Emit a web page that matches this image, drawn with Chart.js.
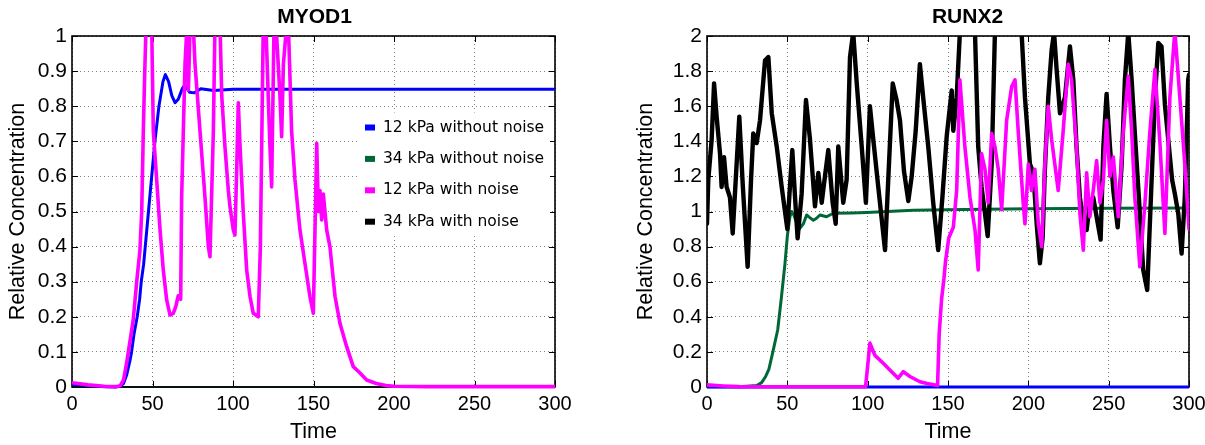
<!DOCTYPE html>
<html>
<head>
<meta charset="utf-8">
<title>MYOD1 / RUNX2</title>
<script src="https://cdn.jsdelivr.net/npm/chart.js@4.4.1/dist/chart.umd.min.js"></script>
<style>
  html, body { margin: 0; padding: 0; background: #fff; }
  #wrap { position: relative; width: 1205px; height: 445px; overflow: hidden; }
  .panel { position: absolute; top: 0; }
  #myodBox { left: 0; }
  #runxBox { left: 600px; }
</style>
</head>
<body>
<div id="wrap">
  <div class="panel" id="myodBox"><canvas id="myodCanvas" width="600" height="445"></canvas></div>
  <div class="panel" id="runxBox"><canvas id="runxCanvas" width="605" height="445"></canvas></div>
</div>
<script>
// series labels (legend order)
const seriesLabels = ["12 kPa without noise", "34 kPa without noise", "12 kPa with noise", "34 kPa with noise"];
const seriesColors = ["#0000ff", "#006837", "#ff00ff", "#000000"];

// ---- MYOD1 ----
const myodBlueT = [0, 10, 20, 27, 30, 32, 34, 36, 37, 38.5,
    40.5, 42, 43, 44.5, 45.5, 47.5, 49.5, 51.5, 54, 56.5,
    58, 60, 62, 64, 66, 68.5, 70, 73, 76, 80,
    88, 100, 300];
const myodBlueV = [0.008, 0.004, 0.001, 0, 0.003, 0.01, 0.035, 0.075, 0.1, 0.15,
    0.2, 0.25, 0.3, 0.35, 0.4, 0.5, 0.6, 0.7, 0.8, 0.87,
    0.89, 0.87, 0.83, 0.81, 0.82, 0.85, 0.86, 0.84, 0.838, 0.85,
    0.845, 0.848, 0.848];

const myodGreenT = [0, 300];
const myodGreenV = [0, 0];

const myodMagT = [0, 10, 20, 28, 30, 32, 34, 36, 38, 40.2,
    42.2, 43.3, 44.3, 45.2, 46, 47.5, 49.5, 50.5, 52.6, 54.7,
    56.7, 58.8, 60.9, 62.9, 64.5, 66, 67.5, 68.1, 70.2, 71.2,
    72.3, 73.3, 75.5, 76.4, 79.5, 82.6, 84.7, 85.7, 87.8, 88.8,
    90.5, 92, 93, 95, 97.1, 98.1, 100.2, 101.2, 102.3, 103.3,
    104.3, 106.4, 108.5, 110.6, 112.6, 115.7, 117, 118.8, 120.5, 121.9,
    123, 124, 125.5, 127.1, 129.2, 130.2, 131.3, 133.3, 134.4, 136.4,
    138.5, 141.6, 144.7, 147.8, 149.9, 152, 153, 154, 155.1, 156.1,
    158.2, 160.2, 163.4, 166.5, 170.6, 174.7, 178.9, 183, 189, 195,
    200, 220, 300];
const myodMagV = [0.012, 0.006, 0.002, 0.001, 0.004, 0.02, 0.07, 0.13, 0.19, 0.30,
    0.39, 0.5, 0.73, 0.9, 1.03, 1.05, 1.03, 0.73, 0.59, 0.447,
    0.333, 0.248, 0.205, 0.21, 0.23, 0.26, 0.25, 0.54, 0.92, 1.01,
    0.846, 1.02, 1.01, 0.92, 0.73, 0.54, 0.40, 0.371, 0.73, 1.03,
    1.05, 1.02, 0.83, 0.685, 0.56, 0.514, 0.447, 0.433, 0.62, 0.81,
    0.694, 0.495, 0.333, 0.257, 0.21, 0.2, 0.4, 1.03, 1.02, 0.827,
    0.68, 0.57, 1.03, 1.0, 0.827, 0.713, 0.92, 1.03, 1.03, 0.73,
    0.59, 0.447, 0.352, 0.257, 0.21, 0.694, 0.5, 0.56, 0.476, 0.55,
    0.447, 0.40, 0.257, 0.18, 0.115, 0.058, 0.04, 0.02, 0.01, 0.004,
    0.002, 0.001, 0.001];

const myodBlackT = [0, 300];
const myodBlackV = [0, 0];

// ---- RUNX2 ----
const runxBlueT = [0, 300];
const runxBlueV = [0, 0];

const runxGreenT = [0, 20, 31, 34, 36.5, 38.5, 40.5, 44, 46.3, 48.5,
    50, 51.6, 52.7, 54, 56, 57.9, 60, 62, 64, 66.2,
    68, 70.3, 74.4, 78.6, 90, 99.4, 128.4, 160, 200, 250,
    300];
const runxGreenV = [0.002, 0.001, 0.008, 0.025, 0.06, 0.1, 0.18, 0.325, 0.51, 0.7,
    0.86, 0.97, 1.0, 0.98, 0.93, 0.905, 0.93, 0.98, 0.965, 0.95,
    0.96, 0.98, 0.97, 0.99, 0.992, 0.995, 1.007, 1.012, 1.015, 1.018,
    1.02];

const runxMagT = [0, 10, 20, 40, 98.7, 101.4, 104.5, 109.7, 114.9, 119,
    122.2, 126.3, 132.5, 137, 143.5, 144.5, 146, 147.5, 148.5, 150.5,
    153.3, 155.4, 157.4, 160.5, 163.7, 166.8, 168.8, 170.9, 173, 175,
    177.2, 179.2, 181.3, 183.4, 186.5, 189.6, 191.7, 193.7, 196.8, 197.9,
    200, 202, 204.1, 206.2, 208.3, 210.3, 212.4, 214.5, 218.6, 221.7,
    224.8, 226.9, 230, 232.1, 234.2, 236.3, 238.3, 240.4, 242.5, 244.6,
    246.7, 248.7, 250.8, 252.9, 256, 259.1, 262.2, 264.3, 266.3, 269.4,
    272.6, 275.7, 278.8, 281.9, 285, 288.1, 291.2, 294.3, 297.4, 300];
const runxMagV = [0.012, 0.006, 0.002, 0.001, 0.001, 0.25, 0.18, 0.135, 0.087, 0.05,
    0.087, 0.06, 0.03, 0.02, 0.008, 0.3, 0.5, 0.62, 0.72, 0.85,
    0.91, 1.12, 1.75, 1.37, 1.08, 0.895, 0.667, 1.33, 1.24, 1.05,
    1.445, 1.37, 1.24, 1.01, 1.52, 1.71, 1.75, 1.46, 1.05, 0.93,
    1.27, 1.12, 1.24, 0.93, 0.8, 1.27, 1.6, 1.41, 1.12, 1.46,
    1.84, 1.75, 1.37, 0.99, 0.78, 1.22, 0.97, 1.12, 1.29, 1.05,
    1.18, 1.52, 1.2, 1.31, 0.97, 1.46, 1.77, 1.46, 1.08, 0.685,
    1.05, 1.46, 1.81, 1.39, 0.875, 1.65, 2.03, 1.65, 1.27, 0.9];

const runxBlackT = [0, 0.8, 2.9, 4.4, 6, 8.1, 9.1, 10.6, 12.2, 14.3,
    16, 18, 20.1, 22.2, 25.3, 27.4, 28.8, 30.9, 33, 36.1,
    38.2, 40.3, 43.4, 46.5, 50, 51.2, 53.1, 54.8, 56.4, 58.9,
    61.6, 64.1, 67.2, 69.3, 71.4, 73.4, 75.5, 78.2, 80.1, 81.7,
    84.8, 86.9, 89, 91, 93.2, 96.3, 98.9, 101.4, 103.5, 106.6,
    110.8, 112.8, 115.6, 118, 120.1, 122.6, 125.3, 127.4, 129.9, 132.5,
    135, 137.7, 140.8, 143.9, 146.5, 149.2, 152.3, 153.3, 155.4, 157.4,
    160.5, 164, 166.8, 168.8, 170.9, 173, 174.7, 177.2, 179.2, 184,
    190, 195.8, 197.9, 201, 203.1, 205.2, 207.2, 208.9, 210.3, 212.4,
    214.5, 216, 217.6, 219.7, 222.8, 225.9, 228, 230, 232.1, 234.2,
    236.3, 238.3, 240.4, 242.5, 245, 246.7, 248.7, 250.8, 252.9, 255.6,
    258.1, 260.1, 262.2, 264.3, 266.8, 268.8, 271.5, 274, 276.3, 278.8,
    280.9, 282.9, 285, 287.5, 289.5, 291.2, 293.3, 295.4, 297.4, 299.5,
    300];
const runxBlackV = [0.93, 1.18, 1.41, 1.73, 1.54, 1.33, 1.14, 1.31, 1.14, 1.08,
    0.875, 1.2, 1.54, 1.16, 0.685, 1.18, 1.445, 1.39, 1.52, 1.86,
    1.88, 1.56, 1.37, 1.14, 0.9, 1.08, 1.35, 1.08, 0.847, 1.1,
    1.635, 1.41, 1.03, 1.22, 1.05, 1.2, 1.35, 1.05, 0.93, 1.37,
    1.05, 1.18, 1.88, 2.02, 1.73, 1.37, 1.05, 1.6, 1.41, 1.14,
    0.78, 1.18, 1.73, 1.635, 1.52, 1.23, 1.06, 1.2, 1.46, 1.84,
    1.61, 1.37, 1.05, 0.78, 1.08, 1.43, 1.69, 1.46, 1.65, 2.02,
    2.15, 2.1, 2.02, 1.37, 1.14, 0.99, 0.86, 1.27, 2.02, 2.2,
    2.15, 2.02, 1.65, 1.27, 1.22, 0.93, 0.705, 0.85, 1.24, 1.65,
    1.92, 2.02, 1.81, 1.56, 1.65, 1.94, 1.75, 1.37, 1.08, 0.95,
    0.895, 1.05, 1.08, 0.97, 0.84, 1.37, 1.67, 1.37, 1.12, 0.91,
    1.27, 1.75, 2.02, 1.75, 1.37, 1.08, 0.667, 0.553, 1.08, 1.65,
    1.96, 1.94, 1.61, 1.37, 1.18, 1.1, 0.99, 0.76, 1.08, 1.75,
    1.78];

Chart.defaults.font.family = '"Liberation Sans", Arial, Helvetica, sans-serif';
Chart.defaults.color = "#000";

function toPoints(ts, vs) {
    var pts = [];
    for (var i = 0; i < ts.length && i < vs.length; i++) {
        pts.push({ x: ts[i], y: vs[i] });
    }
    return pts;
}

// widths / draw order: lower order is drawn on top
const lineWidths = [3, 3, 3.6, 4.4];
const drawOrder = [1, 3, 0, 2];

function makeSet(i, ts, vs, width) {
    return {
        label: seriesLabels[i],
        data: toPoints(ts, vs),
        borderColor: seriesColors[i],
        backgroundColor: seriesColors[i],
        borderWidth: width || lineWidths[i],
        pointRadius: 0,
        tension: 0,
        fill: false,
        order: drawOrder[i],
        borderJoinStyle: "round",
        borderCapStyle: "round",
        clip: { left: 0, top: 0, right: 0, bottom: 4 }
    };
}

// box round the axes + inward ticks (drawn under the data)
const framePlugin = {
    id: "panelFrame",
    beforeDatasetsDraw(chart) {
        const ctx = chart.ctx, a = chart.chartArea;
        const xs = chart.scales.x, ys = chart.scales.y;
        ctx.save();
        ctx.strokeStyle = "#000";
        ctx.lineWidth = 1;
        ctx.beginPath();
        xs.ticks.forEach(t => {
            const px = Math.round(xs.getPixelForValue(t.value)) + 0.5;
            ctx.moveTo(px, a.bottom); ctx.lineTo(px, a.bottom - 6);
            ctx.moveTo(px, a.top); ctx.lineTo(px, a.top + 6);
        });
        ys.ticks.forEach(t => {
            const py = Math.round(ys.getPixelForValue(t.value)) + 0.5;
            ctx.moveTo(a.left, py); ctx.lineTo(a.left + 6, py);
            ctx.moveTo(a.right, py); ctx.lineTo(a.right - 6, py);
        });
        ctx.stroke();
        ctx.lineWidth = 1.6;
        ctx.strokeRect(a.left, a.top, a.right - a.left, a.bottom - a.top);
        ctx.restore();
    }
};

const titlePlugin = {
    id: "panelTitle",
    afterDraw(chart, args, opts) {
        const ctx = chart.ctx;
        ctx.save();
        ctx.font = 'bold 21px "Liberation Sans", Arial, sans-serif';
        ctx.fillStyle = "#000";
        ctx.textAlign = "center";
        ctx.textBaseline = "middle";
        ctx.fillText(opts.text, opts.x, opts.y);
        ctx.restore();
    }
};

const legendPlugin = {
    id: "panelLegend",
    afterDatasetsDraw(chart, args, opts) {
        if (!opts.show) return;
        const ctx = chart.ctx;
        ctx.save();
        ctx.fillStyle = "#fff";
        ctx.fillRect(opts.x - 7, opts.y - 15, 192, 4 * opts.gap - 2);
        ctx.font = '15.5px "DejaVu Sans", sans-serif';
        ctx.textAlign = "left";
        ctx.textBaseline = "middle";
        chart.data.datasets.forEach((ds, i) => {
            const y = opts.y + i * opts.gap;
            ctx.fillStyle = ds.borderColor;
            ctx.fillRect(opts.x, y - 3, 10, 6);
            ctx.fillStyle = "#000";
            ctx.fillText(ds.label, opts.x + 18, y);
        });
        ctx.restore();
    }
};

function makeOptions(p) {
    return {
        responsive: false,
        animation: false,
        events: [],
        layout: { padding: { left: p.padLeft, right: p.padRight, top: 36, bottom: 0 } },
        plugins: {
            legend: { display: false },
            tooltip: { enabled: false },
            title: { display: false },
            panelTitle: { text: p.title, x: p.titleX, y: 17.5 },
            panelLegend: { show: p.legend, x: 365, y: 127.5, gap: 31.4 }
        },
        scales: {
            x: {
                type: "linear", min: 0, max: 300,
                ticks: { stepSize: 50, padding: 5, font: { size: 20 }, color: "#000", maxRotation: 0, autoSkip: false },
                grid: { color: "rgba(0,0,0,0.5)", lineWidth: 1, drawTicks: false },
                border: { display: false, dash: [1, 3] },
                title: { display: true, text: "Time", font: { size: 21.5 }, color: "#000", padding: { top: 0, bottom: 0 } },
                afterFit: s => { s.height = 58; s.paddingLeft = 0; s.paddingRight = 0; }
            },
            y: {
                type: "linear", min: 0, max: p.yMax,
                ticks: {
                    stepSize: p.yStep, padding: 5, font: { size: 21 }, color: "#000", autoSkip: false,
                    callback: v => String(Math.round(v * 10) / 10)
                },
                grid: { color: "rgba(0,0,0,0.5)", lineWidth: 1, drawTicks: false },
                border: { display: false, dash: [1, 3] },
                title: { display: true, text: "Relative Concentration", font: { size: 21.5 }, color: "#000", padding: { top: 5, bottom: 0 } },
                afterFit: s => { s.width = p.yWidth; s.paddingTop = 0; s.paddingBottom = 0; }
            }
        }
    };
}

new Chart(document.getElementById("myodCanvas"), {
    type: "line",
    data: {
        datasets: [
            makeSet(0, myodBlueT, myodBlueV),
            makeSet(1, myodGreenT, myodGreenV, 1.5),
            makeSet(2, myodMagT, myodMagV),
            makeSet(3, myodBlackT, myodBlackV, 1.5)
        ]
    },
    options: makeOptions({ title: "MYOD1", titleX: 314.5, padLeft: 0, padRight: 45, yWidth: 72, yMax: 1, yStep: 0.1, legend: true }),
    plugins: [framePlugin, titlePlugin, legendPlugin]
});

new Chart(document.getElementById("runxCanvas"), {
    type: "line",
    data: {
        datasets: [
            makeSet(0, runxBlueT, runxBlueV),
            makeSet(1, runxGreenT, runxGreenV),
            makeSet(2, runxMagT, runxMagV),
            makeSet(3, runxBlackT, runxBlackV)
        ]
    },
    options: makeOptions({ title: "RUNX2", titleX: 367.5, padLeft: 28, padRight: 16, yWidth: 79, yMax: 2, yStep: 0.2, legend: false }),
    plugins: [framePlugin, titlePlugin, legendPlugin]
});
</script>
</body>
</html>
